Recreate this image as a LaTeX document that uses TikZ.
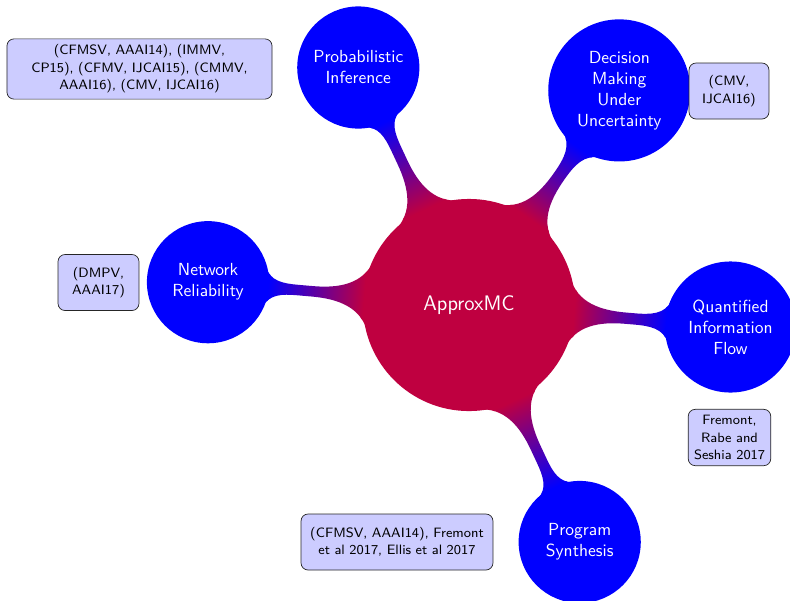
\documentclass[tikz,border=0pt]{standalone}
\usetikzlibrary{mindmap}
\tikzset{
  cnode/.style={concept, circle, inner sep=0pt, align=center, text=white, font=\sffamily},
  rootnode/.style={cnode, concept color=purple, minimum size=120pt, text width=100pt, font=\sffamily\large},
  kidnode/.style={cnode, concept color=blue, minimum size=68.6pt, text width=58pt},
  anno/.style={draw=black!85, fill=blue!20, rounded corners=4pt, font=\sffamily\fontsize{7.75}{10}\selectfont, align=center, text=black, minimum height=32pt, inner sep=3.33pt},
  bar/.style={circle connection bar switch color=from (purple) to (blue)}
}
\begin{document}
\begin{tikzpicture}[x=0.5714pt,y=-0.5714pt]
\useasboundingbox (0,0) rectangle (790,600);
\fill[white] (0,0) rectangle (790,600);
\begin{scope}[mindmap]
  \node[rootnode] (root) at (469,305) {ApproxMC};
  \node[kidnode] (net) at (208,282.2) {Network\\Reliability};
  \node[kidnode] (prob) at (358.3,67.5) {Probabilistic\\Inference};
  \node[kidnode, minimum size=80pt, text width=55pt] (dec) at (619.3,90.4) {Decision\\Making\\Under\\Uncertainty};
  \node[kidnode, minimum size=73.7pt, text width=55pt] (qif) at (730.5,327) {Quantified\\Information\\Flow};
  \node[kidnode] (prog) at (579.7,542) {Program\\Synthesis};
  \path (root) to[bar] (net);
  \path (root) to[bar] (prob);
  \path (root) to[bar] (dec);
  \path (root) to[bar] (qif);
  \path (root) to[bar] (prog);
\end{scope}
\node[anno, text width=144.8pt] (aprob) at (139.5,69) {(CFMSV, AAAI14), (IMMV,\\CP15), (CFMV, IJCAI15), (CMMV,\\AAAI16), (CMV, IJCAI16)};
\node[anno, text width=39pt] (adec) at (729,91) {(CMV,\\IJCAI16)};
\node[anno, text width=39.6pt] (anet) at (98.5,282.5) {(DMPV,\\AAAI17)};
\node[anno, text width=40.5pt] (aqif) at (729.5,437.5) {Fremont,\\Rabe and\\Seshia~2017};
\node[anno, text width=103pt] (aprog) at (397,542) {(CFMSV, AAAI14), Fremont\\et al 2017, Ellis et al 2017};
\end{tikzpicture}
\end{document}
